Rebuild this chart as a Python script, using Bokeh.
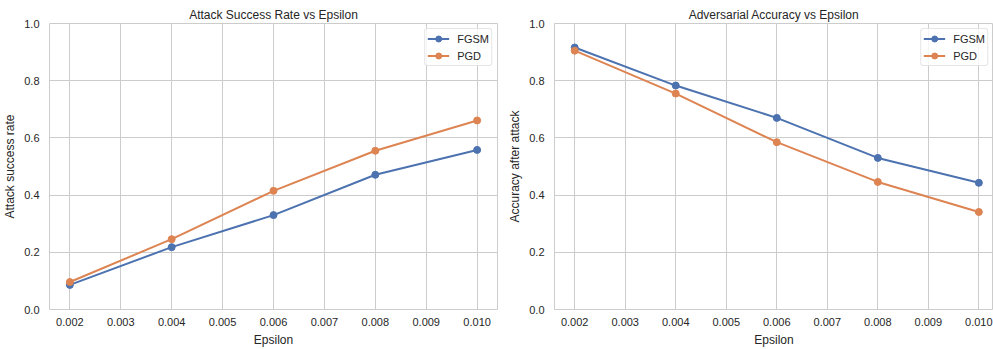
from bokeh.plotting import figure
from bokeh.layouts import row
from bokeh.models import FixedTicker, NumeralTickFormatter, Range1d
from bokeh.embed import file_html
from bokeh.resources import INLINE

# Perturbation budgets and measured results
epsilons = [0.002, 0.004, 0.006, 0.008, 0.010]
fgsm_success = [0.086, 0.218, 0.330, 0.471, 0.558]
pgd_success = [0.096, 0.246, 0.415, 0.555, 0.661]
fgsm_accuracy = [0.916, 0.783, 0.670, 0.530, 0.443]
pgd_accuracy = [0.905, 0.755, 0.585, 0.446, 0.341]

x_ticks = [0.002, 0.003, 0.004, 0.005, 0.006, 0.007, 0.008, 0.009, 0.010]
y_ticks = [0.0, 0.2, 0.4, 0.6, 0.8, 1.0]

BLUE = "#4C72B0"
ORANGE = "#DD8452"
GRID = "#CCCCCC"
TEXT = "#262626"
FONT = "Liberation Sans"


def make_panel(title, ylabel, fgsm, pgd, width, border_left, border_right, x_end):
    p = figure(width=width, height=349, output_backend="svg", toolbar_location=None,
               title=title, x_range=Range1d(0.0016, x_end), y_range=Range1d(0.0, 1.0),
               min_border_left=border_left, min_border_right=border_right,
               min_border_top=23, min_border_bottom=38)
    p.background_fill_color = "white"
    p.border_fill_color = "white"
    p.outline_line_color = GRID
    p.outline_line_width = 1

    p.title.text_font = FONT
    p.title.text_font_size = "12px"
    p.title.text_font_style = "normal"
    p.title.text_color = TEXT
    p.title.align = "center"
    p.title.standoff = 4

    for ax in (p.xaxis[0], p.yaxis[0]):
        ax.axis_line_color = None
        ax.major_tick_line_color = None
        ax.minor_tick_line_color = None
        ax.major_tick_in = 0
        ax.major_tick_out = 0
        ax.major_label_text_font = FONT
        ax.major_label_text_font_size = "11px"
        ax.major_label_text_color = TEXT
        ax.axis_label_text_font = FONT
        ax.axis_label_text_font_size = "12px"
        ax.axis_label_text_font_style = "normal"
        ax.axis_label_text_color = TEXT

    p.xaxis.ticker = FixedTicker(ticks=x_ticks)
    p.xaxis.formatter = NumeralTickFormatter(format="0.000")
    p.xaxis.axis_label = "Epsilon"
    p.xaxis.major_label_standoff = 8
    p.xaxis.axis_label_standoff = 4

    p.yaxis.ticker = FixedTicker(ticks=y_ticks)
    p.yaxis.formatter = NumeralTickFormatter(format="0.0")
    p.yaxis.axis_label = ylabel
    p.yaxis.major_label_standoff = 10
    p.yaxis.axis_label_standoff = 4

    p.grid.grid_line_color = GRID
    p.grid.grid_line_width = 1

    for vals, color, name in ((fgsm, BLUE, "FGSM"), (pgd, ORANGE, "PGD")):
        p.line(epsilons, vals, line_color=color, line_width=2, legend_label=name)
        p.scatter(epsilons, vals, marker="circle", size=7, fill_color=color,
                  line_color=color, legend_label=name)

    lg = p.legend[0]
    lg.location = "top_right"
    lg.margin = 5
    lg.padding = 2
    lg.spacing = 2
    lg.label_text_font = FONT
    lg.label_text_font_size = "11px"
    lg.label_text_color = TEXT
    lg.label_height = 15
    lg.glyph_height = 15
    lg.glyph_width = 22
    lg.label_standoff = 8
    lg.border_line_color = GRID
    lg.border_line_width = 1
    lg.border_radius = 3
    lg.background_fill_color = "white"
    lg.background_fill_alpha = 0.8
    return p


p1 = make_panel("Attack Success Rate vs Epsilon", "Attack success rate",
                fgsm_success, pgd_success, 505, 48, 8, 0.0104)
p2 = make_panel("Adversarial Accuracy vs Epsilon", "Accuracy after attack",
                fgsm_accuracy, pgd_accuracy, 488, 45, 0, 0.01029)
p2.title.offset = 3

layout = row(p1, p2)
open("out.html", "w").write(file_html(layout, INLINE))
